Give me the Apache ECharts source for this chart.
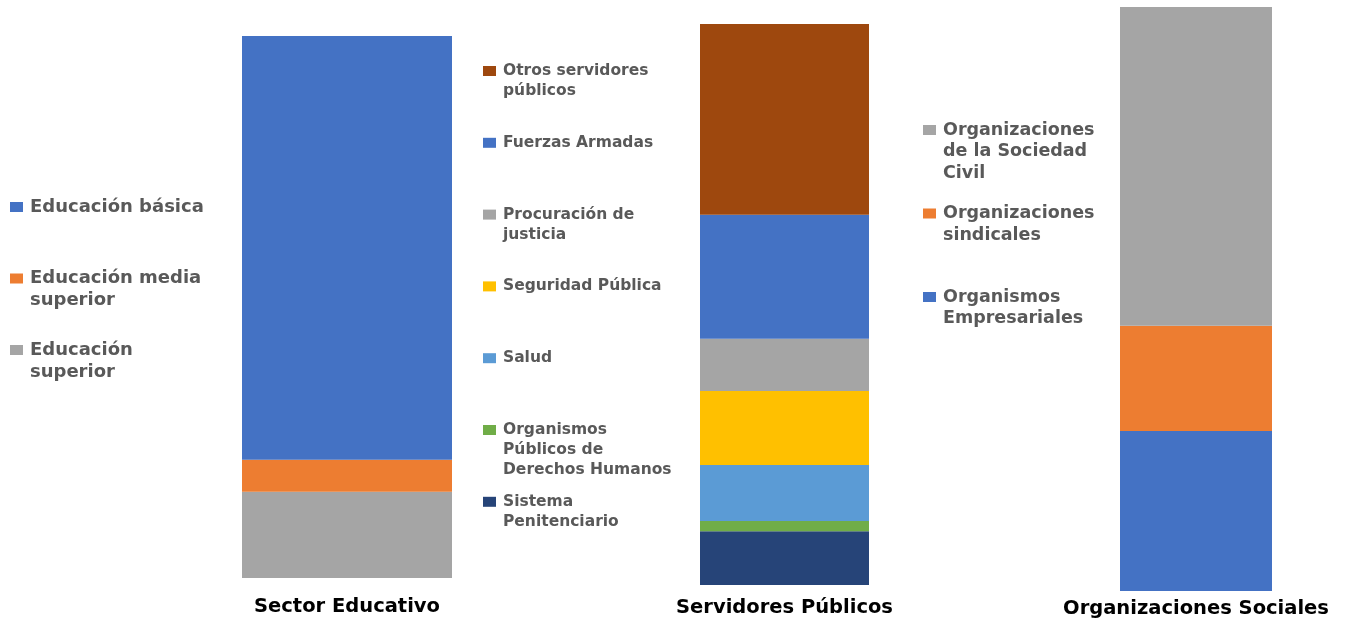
<!DOCTYPE html>
<html>
<head>
<meta charset="utf-8">
<script src="https://cdn.jsdelivr.net/npm/echarts@6/dist/echarts.min.js"></script>
<style>
  html, body { margin: 0; padding: 0; background: #fff; }
  #chart { width: 1349px; height: 621px; }
</style>
</head>
<body>
<div id="chart"></div>
<script>
// categories (one per bar)
const categories = ['Sector Educativo', 'Servidores Públicos', 'Organizaciones Sociales']

// shares in %, listed top of the stack first (same order as the legends)
const eduNames = ['Educación básica', 'Educación media superior', 'Educación superior']
const eduValues = [78.2, 5.9, 15.9]

const servNames = [
    'Otros servidores públicos',
    'Fuerzas Armadas',
    'Procuración de justicia',
    'Seguridad Pública',
    'Salud',
    'Organismos Públicos de Derechos Humanos',
    'Sistema Penitenciario'
]
const servValues = [34.0, 22.1, 9.3, 13.2, 10.0, 1.8, 9.6]

const socNames = ['Organizaciones de la Sociedad Civil', 'Organizaciones sindicales', 'Organismos Empresariales']
const socValues = [54.6, 18.0, 27.4]

// colours
const eduColors = ['#4472C4', '#ED7D31', '#A5A5A5']
const servColors = ['#9E480E', '#4472C4', '#A5A5A5', '#FFC000', '#5B9BD5', '#70AD47', '#264478']
const socColors = ['#A5A5A5', '#ED7D31', '#4472C4']

const FONT = 'DejaVu Sans'

// layout for each panel
const panels = [
    {names: eduNames, values: eduValues, colors: eduColors,
     grid: {left: 242, top: 36, width: 210, height: 542}, labelMargin: 19,
     legend: {left: 10, first: 207, step: 71.5, size: 18, lh: 22, wrap: 16}},
    {names: servNames, values: servValues, colors: servColors,
     grid: {left: 700, top: 24, width: 169, height: 561}, labelMargin: 13,
     legend: {left: 483, first: 71, step: 71.8, size: 15.5, lh: 20, wrap: 17}},
    {names: socNames, values: socValues, colors: socColors,
     grid: {left: 1120, top: 7, width: 152, height: 584}, labelMargin: 8,
     legend: {left: 923, first: 130, step: 83.5, size: 17.5, lh: 21.5, wrap: 16}}
]

// greedy word wrap by character count
const wrap = (text, max) => {
    let lines = []
    let cur = ''
    text.split(' ').forEach(w => {
        if (cur && (cur + ' ' + w).length > max) {
            lines.push(cur)
            cur = w
        } else {
            cur = cur ? cur + ' ' + w : w
        }
    })
    lines.push(cur)
    return lines
}

let grids = [], xAxes = [], yAxes = [], series = [], legends = []

panels.forEach((p, gi) => {
    grids.push(Object.assign({containLabel: false}, p.grid))
    xAxes.push({
        type: 'category',
        gridIndex: gi,
        data: [categories[gi]],
        axisLine: {show: false},
        axisTick: {show: false},
        axisLabel: {
            margin: p.labelMargin,
            color: '#000',
            fontFamily: FONT,
            fontWeight: 'bold',
            fontSize: 19.5
        }
    })
    yAxes.push({
        type: 'value',
        gridIndex: gi,
        min: 0,
        max: 100,
        show: false,
        splitLine: {show: false}
    })
    // bottom of the stack first
    for (let i = p.names.length - 1; i >= 0; i--) {
        series.push({
            type: 'bar',
            name: p.names[i],
            xAxisIndex: gi,
            yAxisIndex: gi,
            stack: 'g' + gi,
            barWidth: '100%',
            data: [p.values[i]],
            itemStyle: {color: p.colors[i]},
            emphasis: {disabled: true}
        })
    }
    // one legend per entry so each sits in its own slot, icon on the first line
    p.names.forEach((name, i) => {
        const lines = wrap(name, p.legend.wrap)
        const n = lines.length
        // pad with blank lines on top so the first line is centred on the icon
        const text = new Array(n - 1).fill('').concat(lines).join('\n')
        const total = (2 * n - 1) * p.legend.lh
        const center = p.legend.first + i * p.legend.step
        legends.push({
            left: p.legend.left,
            top: center - Math.max(total, 10) / 2,
            orient: 'vertical',
            padding: 0,
            itemWidth: 13,
            itemHeight: 10,
            itemGap: 0,
            icon: 'rect',
            selectedMode: false,
            data: [name],
            formatter: () => text,
            textStyle: {
                color: '#595959',
                fontFamily: FONT,
                fontWeight: 'bold',
                fontSize: p.legend.size,
                lineHeight: p.legend.lh,
                padding: [0, 0, 0, 2]
            }
        })
    })
})

const myChart = echarts.init(document.getElementById('chart'))
myChart.setOption({
    animation: false,
    backgroundColor: '#fff',
    grid: grids,
    xAxis: xAxes,
    yAxis: yAxes,
    legend: legends,
    series: series
})
</script>
</body>
</html>
